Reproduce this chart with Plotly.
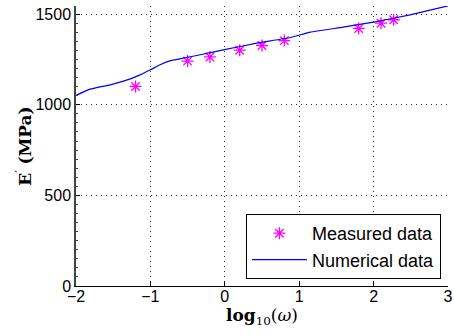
import plotly.graph_objects as go

# Measured data (log10 omega, E' in MPa)
meas_x = [-1.2, -0.5, -0.2, 0.2, 0.5, 0.8, 1.8, 2.1, 2.27]
meas_y = [1101, 1241, 1264, 1301, 1327, 1354, 1421, 1450, 1469]

# Numerical curve
num_x = [-2.0, -1.81, -1.54, -1.27, -1.14, -1.0, -0.87, -0.74, -0.56, -0.33,
         -0.02, 0.43, 0.88, 1.15, 1.59, 2.04, 2.49, 3.0]
num_y = [1052, 1086, 1110, 1143, 1165, 1193, 1221, 1242, 1257, 1276,
         1303, 1340, 1371, 1401, 1428, 1459, 1496, 1546]

x_ticks = [-2, -1, 0, 1, 2, 3]
x_labels = ["\u22122", "\u22121", "0", "1", "2", "3"]
y_ticks = [0, 500, 1000, 1500]

fig = go.Figure()
fig.add_trace(go.Scatter(
    x=meas_x, y=meas_y, mode="markers", name="Measured data",
    marker=dict(symbol="asterisk-open", size=10, color="#ff00ff",
                line=dict(color="#ff00ff", width=1.3)),
))
fig.add_trace(go.Scatter(
    x=num_x, y=num_y, mode="lines", name="Numerical data",
    line=dict(color="#0000ff", width=1.2, shape="spline", smoothing=0.3),
))

fig.update_layout(
    width=454, height=335,
    margin=dict(l=76, r=6, t=6, b=49),
    paper_bgcolor="white", plot_bgcolor="white",
    font=dict(family="Liberation Sans, Arial, sans-serif", size=16, color="black"),
    legend=dict(
        x=0.981, y=0.025, xanchor="right", yanchor="bottom",
        bgcolor="white", bordercolor="black", borderwidth=1,
        font=dict(family="Liberation Sans, Arial, sans-serif", size=18),
        itemwidth=55, tracegroupgap=0,
    ),
    showlegend=True,
)
fig.update_xaxes(
    range=[-2, 3], tickvals=x_ticks, ticktext=x_labels,
    ticks="inside", ticklen=4, tickcolor="black",
    ticklabeloverflow="allow", ticklabelstandoff=-4,
    showline=True, linecolor="black", linewidth=1,
    showgrid=True, gridcolor="#333333", griddash="1px,4px", gridwidth=1,
    zeroline=False, mirror=False, automargin=False,
    title=dict(text="<b>log</b><sub>10</sub>(<i>ω</i>)",
               font=dict(family="DejaVu Serif, Liberation Serif, serif", size=17),
               standoff=0),
)
fig.update_yaxes(
    range=[0, 1545], tickvals=y_ticks,
    ticks="inside", ticklen=4, tickcolor="black",
    ticklabeloverflow="allow",
    minor=dict(dtick=50, ticks="inside", ticklen=2, tickcolor="#444444", showgrid=False),
    showline=True, linecolor="#444444", linewidth=1.5,
    showgrid=True, gridcolor="#333333", griddash="1px,4px", gridwidth=1,
    zeroline=False, mirror=False, automargin=False,
    title=dict(text="<b>E</b><sup>′</sup> <b>(MPa)</b>",
               font=dict(family="DejaVu Serif, Liberation Serif, serif", size=17),
               standoff=0),
)

fig.write_html("out.html", config={"displayModeBar": False},
               post_script="document.body.style.margin='0';document.body.style.overflow='hidden';")
